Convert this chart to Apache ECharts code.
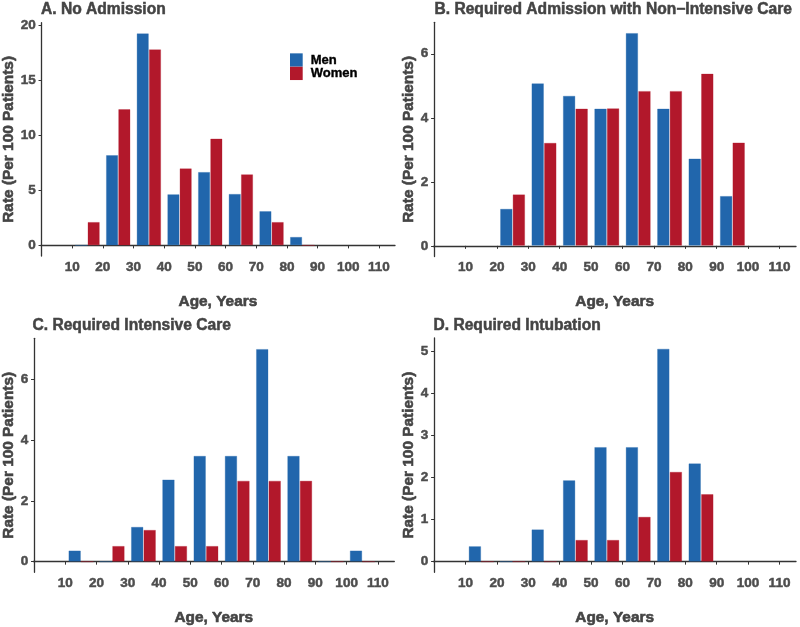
<!DOCTYPE html>
<html><head><meta charset="utf-8">
<script src="https://cdn.jsdelivr.net/npm/echarts@6/dist/echarts.min.js"></script>
<style>html,body{margin:0;padding:0;background:#fff}#c{width:800px;height:627px}</style>
</head><body><div id="c"></div>
<script>
// ---- data ----
const ageBins = [10, 20, 30, 40, 50, 60, 70, 80, 90, 100];
const xTicks = [10, 20, 30, 40, 50, 60, 70, 80, 90, 100, 110];
const titles = ['A. No Admission', 'B. Required Admission with Non\u2212Intensive Care', 'C. Required Intensive Care', 'D. Required Intubation'];
const menA   = [0, 8.2, 19.25, 4.65, 6.67, 4.68, 3.12, 0.78, null, null];
const womenA = [2.13, 12.37, 17.8, 7.0, 9.7, 6.46, 2.13, 0, null, null];
const menB   = [null, 1.16, 5.08, 4.69, 4.29, 6.65, 4.29, 2.73, 1.56, null];
const womenB = [null, 1.61, 3.22, 4.29, 4.3, 4.84, 4.84, 5.38, 3.23, null];
const menC   = [0.37, 0, 1.15, 2.71, 3.49, 3.49, 7.01, 3.49, 0, 0.37];
const womenC = [0, 0.52, 1.05, 0.52, 0.52, 2.67, 2.67, 2.67, 0, 0];
const menD   = [0.37, 0, 0.77, 1.94, 2.73, 2.73, 5.07, 2.34, null, null];
const womenD = [0, 0, 0, 0.52, 0.52, 1.07, 2.14, 1.61, null, null];
const yTicksA = [0, 5, 10, 15, 20];
const yTicksB = [0, 2, 4, 6];
const yTicksC = [0, 2, 4, 6];
const yTicksD = [0, 1, 2, 3, 4, 5];

// ---- layout ----
const FONT = 'Liberation Sans';
const panels = [
  {men: menA, women: womenA, yt: yTicksA, l: 40, t: 22.7, r: 395, b: 256, nameGap: 22, tl: 41, tt: 1.5},
  {men: menB, women: womenB, yt: yTicksB, l: 433.3, t: 22.3, r: 796, b: 256.5, nameGap: 15.5, tl: 434.5, tt: 1.5},
  {men: menC, women: womenC, yt: yTicksC, l: 32.3, t: 338.3, r: 394.3, b: 572.3, nameGap: 14.5, tl: 32.5, tt: 317.5},
  {men: menD, women: womenD, yt: yTicksD, l: 433.3, t: 338, r: 796, b: 572.3, nameGap: 15.5, tl: 433.5, tt: 317.5}
];
const XMIN = -0.25, XMAX = 115.25;
const MEN_C = '#2166ac', WOMEN_C = '#b2182b';
const TXT = '#444', TICK = '#4d4d4d';

const grid = [], xAxis = [], yAxis = [], series = [], title = [];
panels.forEach((p, i) => {
  grid.push({left: p.l, top: p.t, width: p.r - p.l, height: p.b - p.t, containLabel: false});
  const vals = p.men.concat(p.women).filter(v => v != null);
  const mx = Math.max(...vals);
  const axisLine = {show: true, lineStyle: {color: '#333', width: 1.3}};
  const nameStyle = {fontFamily: FONT, fontWeight: 'bold', fontSize: 15.4, color: TXT, textBorderColor: TXT, textBorderWidth: 0.6};
  const labStyle = {fontFamily: FONT, fontWeight: 'bold', fontSize: 13.5, color: TICK, textBorderColor: TICK, textBorderWidth: 0.5};
  xAxis.push({
    type: 'value', gridIndex: i, min: XMIN, max: XMAX,
    name: 'Age, Years', nameLocation: 'middle', nameGap: 38,
    nameTextStyle: nameStyle,
    axisLine, splitLine: {show: false},
    axisTick: {show: true, length: 3, customValues: xTicks, lineStyle: {color: '#333'}},
    axisLabel: Object.assign({customValues: xTicks, margin: 4}, labStyle)
  });
  yAxis.push({
    type: 'value', gridIndex: i, min: -0.05 * mx, max: 1.05 * mx,
    name: 'Rate (Per 100 Patients)', nameLocation: 'middle', nameGap: p.nameGap, nameRotate: 90,
    nameTextStyle: nameStyle,
    axisLine, splitLine: {show: false},
    axisTick: {show: true, length: 3, customValues: p.yt, lineStyle: {color: '#333'}},
    axisLabel: Object.assign({customValues: p.yt, margin: 5}, labStyle)
  });
  const bw = (p.r - p.l) / (XMAX - XMIN) * 4;
  series.push({
    type: 'bar', name: 'Men', xAxisIndex: i, yAxisIndex: i, barWidth: bw, barGap: '-100%',
    itemStyle: {color: MEN_C, borderColor: 'rgba(33,102,172,0.3)', borderWidth: 1},
    data: ageBins.map((a, k) => p.men[k] == null ? null : [a + 3, p.men[k]])
      .filter(d => d), animation: false
  });
  series.push({
    type: 'bar', name: 'Women', xAxisIndex: i, yAxisIndex: i, barWidth: bw, barGap: '-100%',
    itemStyle: {color: WOMEN_C, borderColor: 'rgba(178,24,43,0.3)', borderWidth: 1},
    data: ageBins.map((a, k) => p.women[k] == null ? null : [a + 7, p.women[k]])
      .filter(d => d), animation: false
  });
  title.push({text: titles[i], left: p.tl, top: p.tt, padding: 0,
    textStyle: {fontFamily: FONT, fontWeight: 'bold', fontSize: 15.6, color: TXT, textBorderColor: TXT, textBorderWidth: 0.5}});
});

const chart = echarts.init(document.getElementById('c'), null, {renderer: 'canvas'});
chart.setOption({
  animation: false,
  backgroundColor: '#fff',
  title, grid, xAxis, yAxis, series,
  legend: {
    data: ['Men', 'Women'], orient: 'vertical', left: 290, top: 53.3, padding: 0,
    itemWidth: 12.7, itemHeight: 13.3, itemGap: 0, icon: 'rect',
    itemStyle: {borderWidth: 0},
    textStyle: {fontFamily: FONT, fontWeight: 'bold', fontSize: 13, color: '#000', textBorderColor: '#000', textBorderWidth: 0.4, padding: [0, 0, 0, 3]}
  }
});
</script></body></html>
